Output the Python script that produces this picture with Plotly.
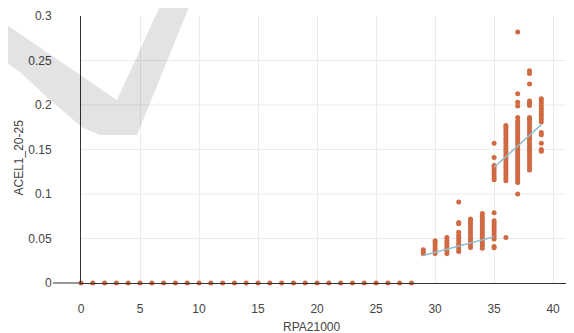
import plotly.graph_objects as go

# ---------------- data ----------------
zero_x = list(range(0, 29))
zero_y = [0.0] * 29

c29 = [0.033, 0.0355, 0.0375]
c30 = [0.033, 0.036, 0.039, 0.042, 0.045, 0.0475]
c31 = [0.033, 0.036, 0.039, 0.042, 0.045, 0.048, 0.051]
c32 = [0.0355, 0.0385, 0.0415, 0.0445, 0.0475, 0.0505, 0.0535, 0.057, 0.0665, 0.068, 0.091]
c33 = [0.040, 0.043, 0.046, 0.049, 0.052, 0.055, 0.058, 0.061, 0.064, 0.067, 0.070, 0.072]
c34 = [0.039, 0.042, 0.045, 0.048, 0.051, 0.054, 0.057, 0.060, 0.063, 0.066, 0.069, 0.072, 0.075, 0.078]
c35 = [0.0395, 0.041, 0.0495, 0.0525, 0.0555, 0.0585, 0.0615, 0.0645, 0.0675, 0.070, 0.079,
       0.116, 0.119, 0.122, 0.125, 0.128, 0.131, 0.132, 0.141, 0.157]
c36 = [0.051, 0.115, 0.118, 0.121, 0.124, 0.127, 0.130, 0.133, 0.136, 0.139, 0.142, 0.145, 0.148,
       0.151, 0.154, 0.157, 0.160, 0.163, 0.166, 0.169, 0.172, 0.175, 0.177]
c37 = [0.100, 0.113, 0.116, 0.119, 0.122, 0.125, 0.128, 0.131, 0.134, 0.137, 0.140, 0.143, 0.146,
       0.149, 0.152, 0.155, 0.158, 0.161, 0.164, 0.167, 0.170, 0.173, 0.176, 0.179, 0.182, 0.186,
       0.199, 0.203, 0.2127, 0.282]
c38 = [0.127, 0.130, 0.133, 0.136, 0.139, 0.142, 0.145, 0.148, 0.151, 0.154, 0.157, 0.160, 0.163,
       0.166, 0.169, 0.172, 0.175, 0.178, 0.181, 0.184, 0.186, 0.1995, 0.202, 0.2045, 0.2236,
       0.2355, 0.2385]
c39 = [0.148, 0.150, 0.157, 0.1665, 0.169, 0.181, 0.184, 0.187, 0.190, 0.193, 0.196, 0.199,
       0.202, 0.205, 0.207]

columns_x = [29, 30, 31, 32, 33, 34, 35, 36, 37, 38, 39]
columns_y = [c29, c30, c31, c32, c33, c34, c35, c36, c37, c38, c39]

trend_lo_x = [29, 35]
trend_lo_y = [0.031, 0.052]
trend_hi_x = [35, 39]
trend_hi_y = [0.130, 0.178]

x_ticks = [0, 5, 10, 15, 20, 25, 30, 35, 40]
y_ticks = [0, 0.05, 0.1, 0.15, 0.2, 0.25, 0.3]
y_ticklabels = ["0", "0.05", "0.1", "0.15", "0.2", "0.25", "0.3"]

x_title = "RPA21000"
y_title = "ACEL1_20-25"

X_MAX = 41.6
Y_MAX = 0.3

# ---------------- build ----------------
pts_x = list(zero_x)
pts_y = list(zero_y)
for cx, cy in zip(columns_x, columns_y):
    pts_x += [cx] * len(cy)
    pts_y += cy

# the page body has an 8px margin, so the figure is offset by (8, 8) in the window
OFF = 8
W, H = 574 - OFF, 333 - OFF
ML, MR, MT, MB = 81 - OFF, 2, 16 - OFF, 50
PW, PH = W - ML - MR, H - MT - MB


def px2paper(px, py):
    """window pixel -> paper coords"""
    return (px - OFF - ML) / PW, (MT + PH - (py - OFF)) / PH


FONT = "Liberation Sans, Arial, sans-serif"
TXT = "#444444"
MARK = "#d06a43"
GRID = "#ebebeb"

fig = go.Figure()
fig.add_trace(go.Scatter(
    x=pts_x, y=pts_y, mode="markers",
    marker=dict(color=MARK, size=5, line=dict(width=0)),
    cliponaxis=False, showlegend=False, hoverinfo="x+y"))
fig.add_trace(go.Scatter(
    x=trend_lo_x, y=trend_lo_y, mode="lines",
    line=dict(color="#8fbcd0", width=1.5), showlegend=False))
fig.add_trace(go.Scatter(
    x=trend_hi_x, y=trend_hi_y, mode="lines",
    line=dict(color="#8fbcd0", width=1.5), showlegend=False))

# watermark (decorative check mark)
wm_px = [(-5, 17), (117, 100), (165, -5), (194, -5), (137, 135), (100, 135),
         (83, 128), (50, 100), (20, 72), (-5, 55)]
pts = [px2paper(a, b) for a, b in wm_px]
path = "M " + " L ".join(f"{a:.4f},{b:.4f}" for a, b in pts) + " Z"

shapes = []
# horizontal gridlines (none at the top edge, as in the reference)
for yv in y_ticks[1:-1]:
    shapes.append(dict(type="line", xref="x", yref="y", x0=0, x1=X_MAX, y0=yv, y1=yv,
                       line=dict(color=GRID, width=1), layer="below"))
shapes += [
    dict(type="path", path=path, xref="paper", yref="paper",
         fillcolor="rgba(0,0,0,0.11)", line=dict(width=0), layer="above"),
    dict(type="line", xref="paper", yref="paper",
         x0=px2paper(53, 0)[0], x1=0, y0=0, y1=0,
         line=dict(color="#333333", width=1)),
]

fig.update_layout(
    width=W, height=H,
    margin=dict(l=ML, r=MR, t=MT, b=MB, autoexpand=False),
    paper_bgcolor="white", plot_bgcolor="white",
    font=dict(family=FONT, size=12, color=TXT),
    shapes=shapes,
    xaxis=dict(range=[0, X_MAX], tickvals=x_ticks, showgrid=True, gridcolor=GRID,
               gridwidth=1, zeroline=False, showline=True, linecolor="#333333",
               linewidth=1, ticks="", ticklabelstandoff=15,
               tickfont=dict(family=FONT, size=12, color=TXT)),
    yaxis=dict(range=[0, Y_MAX], tickvals=y_ticks, ticktext=y_ticklabels, showgrid=False,
               zeroline=False, showline=True,
               linecolor="#333333", linewidth=1, ticks="", ticklabelstandoff=26,
               tickfont=dict(family=FONT, size=12, color=TXT)),
    annotations=[
        dict(text=x_title, xref="paper", yref="paper",
             x=px2paper(311, 0)[0], y=px2paper(0, 326.5)[1],
             xanchor="center", yanchor="middle", showarrow=False,
             font=dict(family=FONT, size=12, color=TXT)),
        dict(text=y_title, xref="paper", yref="paper",
             x=px2paper(18, 0)[0], y=px2paper(0, 157.5)[1], textangle=-90,
             xanchor="center", yanchor="middle", showarrow=False,
             font=dict(family=FONT, size=12, color=TXT)),
    ],
)

fig.write_html("out.html")
